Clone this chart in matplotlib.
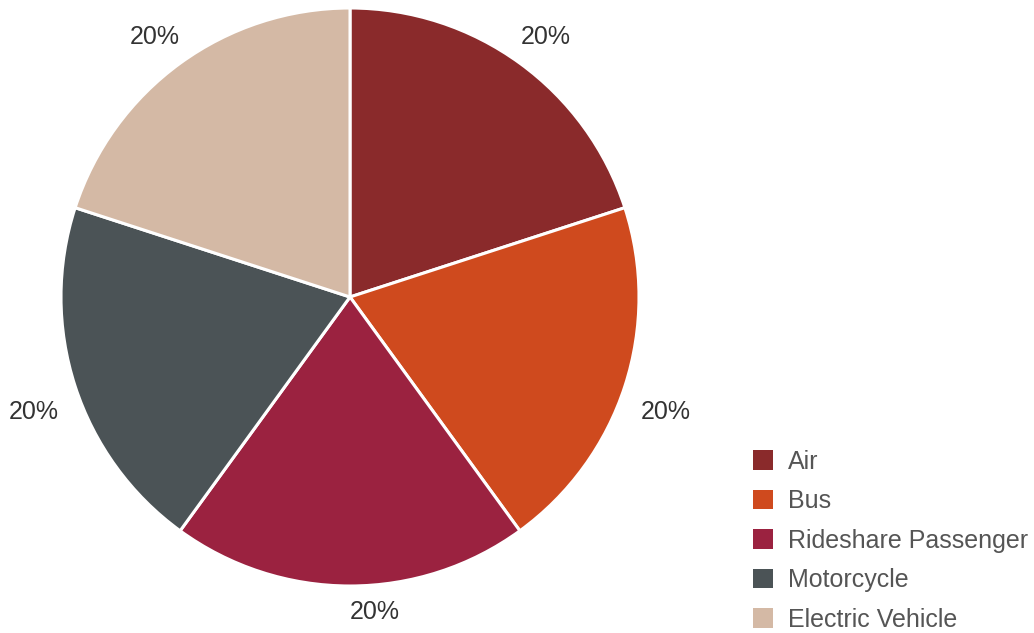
import numpy as np
import matplotlib.pyplot as plt
from matplotlib.patches import Patch

plt.rcParams['font.family'] = ['Liberation Sans', 'DejaVu Sans']

categories = ['Air', 'Bus', 'Rideshare Passenger', 'Motorcycle', 'Electric Vehicle']
shares = [20, 20, 20, 20, 20]
colors = ['#8a2a2b', '#cf4a1e', '#9b2240', '#4b5356', '#d4b9a5']

W, H = 1034, 633
fig = plt.figure(figsize=(W / 100, H / 100), dpi=100)

# pie centre and radius in pixels
cx, cy, r = 350, 297, 289
ax = fig.add_axes([(cx - r) / W, (H - cy - r) / H, 2 * r / W, 2 * r / H])

wedges, texts = ax.pie(
    shares, colors=colors, startangle=90, counterclock=False, radius=1,
    wedgeprops=dict(edgecolor='white', linewidth=2.2))
ax.set_xlim(-1, 1)
ax.set_ylim(-1, 1)
ax.set_aspect('equal')
ax.axis('off')

# percentage labels outside the slices, dropped a little below the radial point
total = sum(shares)
for w, v in zip(wedges, shares):
    ang = np.deg2rad((w.theta1 + w.theta2) / 2)
    x, y = np.cos(ang), np.sin(ang)
    if y < -0.95:
        # bottom label is pulled in and hangs to the right
        ax.text(1.09 * x, 1.09 * y, f'{v / total * 100:.0f}%', ha='left', va='center',
                fontsize=18, color='#333333')
    else:
        ax.text(1.15 * x, 1.16 * y - 0.04, f'{v / total * 100:.0f}%', ha='center', va='center',
                fontsize=18, color='#333333')

handles = [Patch(facecolor=c, edgecolor='none') for c in colors]
leg = fig.legend(handles, categories, loc='lower left',
                 bbox_to_anchor=(740 / W, -0.018), frameon=False,
                 fontsize=18, handlelength=0.82, handleheight=0.82,
                 handletextpad=0.58, labelspacing=0.62, borderaxespad=0.1)
for t in leg.get_texts():
    t.set_color('#555555')

fig.savefig('out.png', dpi=100)
